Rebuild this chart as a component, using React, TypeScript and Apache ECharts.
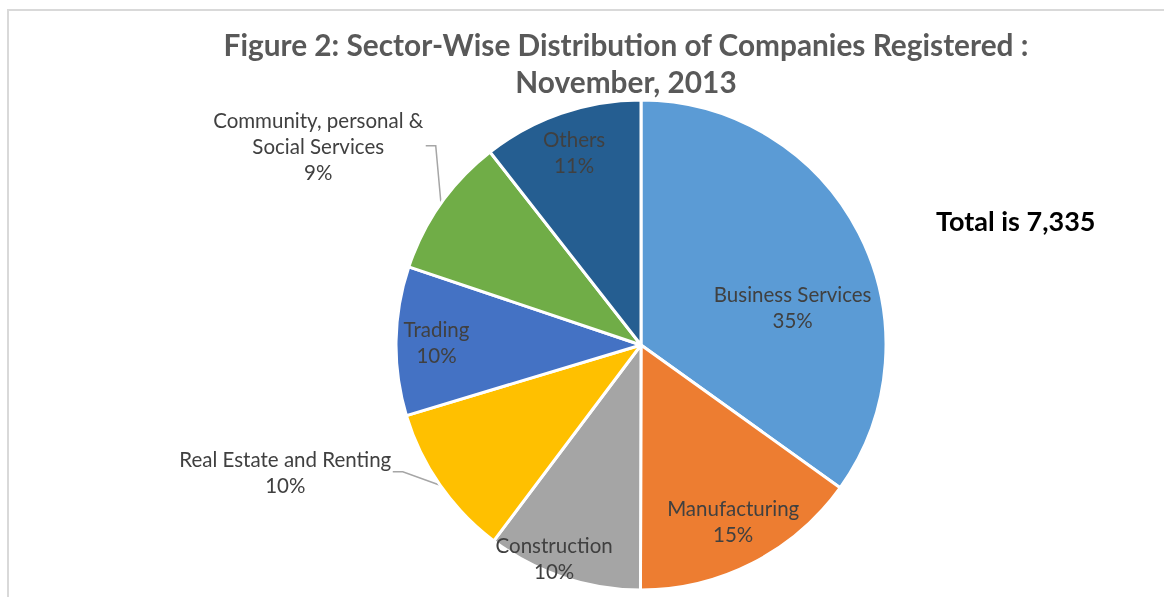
import React, { useEffect, useRef } from 'react';
import * as echarts from 'echarts';

const categories = [
  'Business Services',
  'Manufacturing',
  'Construction',
  'Real Estate and Renting',
  'Trading',
  'Community, personal & Social Services',
  'Others',
];
const companies = [2560, 1110, 750, 740, 720, 680, 775];
const colors = ['#5B9BD5', '#ED7D31', '#A5A5A5', '#FFC000', '#4472C4', '#70AD47', '#255E91'];
const titleText = 'Figure 2: Sector-Wise Distribution of Companies Registered :\nNovember, 2013';
const totalText = 'Total is 7,335';
const outsideNames = ['Real Estate and Renting', 'Community, personal & Social Services'];

const FONT = 'Lato, "Noto Sans", sans-serif';
const LABEL_SIZE = 20.5;

export default function App() {
  const ref = useRef<HTMLDivElement>(null);
  useEffect(() => {
    if (!ref.current) return;
    const chart = echarts.init(ref.current, null, { renderer: 'svg' });
    const offsets: Record<number, [number, number]> = {
      0: [40, 19],
      1: [35, 64],
      2: [-47, 94],
      3: [-20, -22],
      4: [-79, -1],
      5: [12, -49],
      6: [-26, -74],
    };
    const data = categories.map((name, i) => {
      const outside = outsideNames.includes(name);
      const item: any = { name, value: companies[i], itemStyle: { color: colors[i] } };
      if (outside) {
        item.label = {
          position: 'outside',
          align: 'right',
          verticalAlign: 'middle',
          formatter: (p: any) => {
            const lines = p.name.replace('& ', '&\n').split('\n');
            lines.push(Math.round(p.percent) + '%');
            return lines.map((l: string) => '{c|' + l + '}').join('\n');
          },
          rich: {
            c: {
              width: 215,
              align: 'center',
              fontSize: LABEL_SIZE,
              lineHeight: 26,
              color: '#404040',
              fontFamily: FONT,
            },
          },
        };
        item.labelLine = { show: true, length: 15, length2: 10, lineStyle: { color: '#A6A6A6', width: 1.5 } };
      }
      return item;
    });
    chart.setOption({
      animation: false,
      title: [
        {
          text: titleText,
          left: 621,
          textAlign: 'center',
          top: 21,
          textStyle: { fontSize: 29.8, fontWeight: 'bold', color: '#595959', lineHeight: 37, fontFamily: FONT },
        },
        {
          text: totalText,
          left: 931,
          top: 202,
          textStyle: { fontSize: 27, fontWeight: 'bold', color: '#000', fontFamily: FONT },
        },
      ],
      graphic: [
        { type: 'line', shape: { x1: 7, y1: 10, x2: 1164, y2: 10 }, style: { stroke: '#D9D9D9', lineWidth: 2 } },
        { type: 'line', shape: { x1: 8, y1: 10, x2: 8, y2: 597 }, style: { stroke: '#D9D9D9', lineWidth: 2 } },
      ],
      series: [
        {
          type: 'pie',
          center: [641, 345],
          radius: 245,
          startAngle: 90,
          clockwise: true,
          avoidLabelOverlap: false,
          emphasis: { disabled: true },
          itemStyle: { borderColor: '#fff', borderWidth: 3 },
          label: {
            show: true,
            position: 'inside',
            formatter: (p: any) => p.name + '\n' + Math.round(p.percent) + '%',
            fontSize: LABEL_SIZE,
            lineHeight: 26,
            color: '#404040',
            fontFamily: FONT,
          },
          labelLayout: (params: any) => {
            const o = offsets[params.dataIndex];
            if (!o) return {};
            if (outsideNames.includes(categories[params.dataIndex])) {
              const r = params.labelRect;
              return {
                x: r.x + r.width + o[0],
                y: r.y + r.height / 2 + o[1],
              };
            }
            return { dx: o[0], dy: o[1] };
          },
          data,
        },
      ],
    });
    return () => chart.dispose();
  }, []);
  return <div ref={ref} style={{ position: 'fixed', left: 0, top: 0, width: 1164, height: 597 }} />;
}
